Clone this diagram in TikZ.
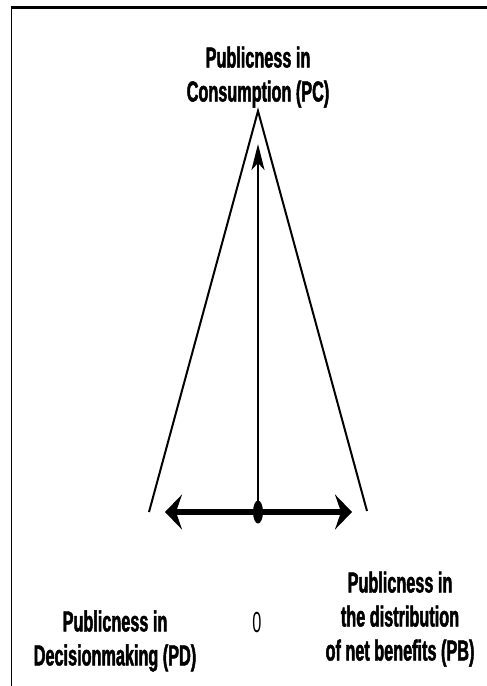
\documentclass[tikz,border=0pt]{standalone}
\usepackage{fontspec}
\newfontfamily\labelfont[FakeStretch=0.56, BoldFeatures={FakeBold=1.6}]{Liberation Sans}
\usetikzlibrary{arrows.meta,shapes.geometric}
\begin{document}
\begin{tikzpicture}[x=1pt, y=-1pt,
  every node/.style={align=center, inner sep=0pt, font=\labelfont\bfseries\fontsize{29}{34}\selectfont},
  leg/.style={line width=2pt},
  uparrow/.style={line width=2.2pt, -{Stealth[length=26pt,width=13pt,inset=7pt]}},
  sidearrow/.style={line width=6pt, {Stealth[length=17pt,width=35pt,inset=6pt]}-{Stealth[length=17pt,width=35pt,inset=6pt]}},
  ]
\useasboundingbox (0,0) rectangle (487,686);
% Frame
\draw[line width=3.5pt] (10.6,7.5) -- (487,7.5);
\draw[line width=1.4pt] (11.7,6) -- (11.7,686);
% Corners of the triangle
\coordinate (apex) at (258,111);
\coordinate (pdend) at (149,512);
\coordinate (pbend) at (367,511);
\draw[leg] (pdend) -- (apex) -- (pbend);
% Axes
\node[ellipse, fill, minimum width=10pt, minimum height=23pt] (origin) at (258,512) {};
\coordinate (pctip) at (258,144);
\coordinate (pdtip) at (165,512);
\coordinate (pbtip) at (352,512);
\draw[uparrow] (origin.center) -- (pctip);
\draw[sidearrow] (pdtip) -- (pbtip);
% Labels
\node (pc) at (258,77) {Publicness in\\Consumption (PC)};
\node (pd) at (115,641) {Publicness in\\Decisionmaking (PD)};
\node (pb) at (400,619) {Publicness in\\the distribution\\of net benefits (PB)};
\node[font=\labelfont\fontsize{29}{34}\selectfont] (zero) at (257,623) {0};
\end{tikzpicture}
\end{document}
